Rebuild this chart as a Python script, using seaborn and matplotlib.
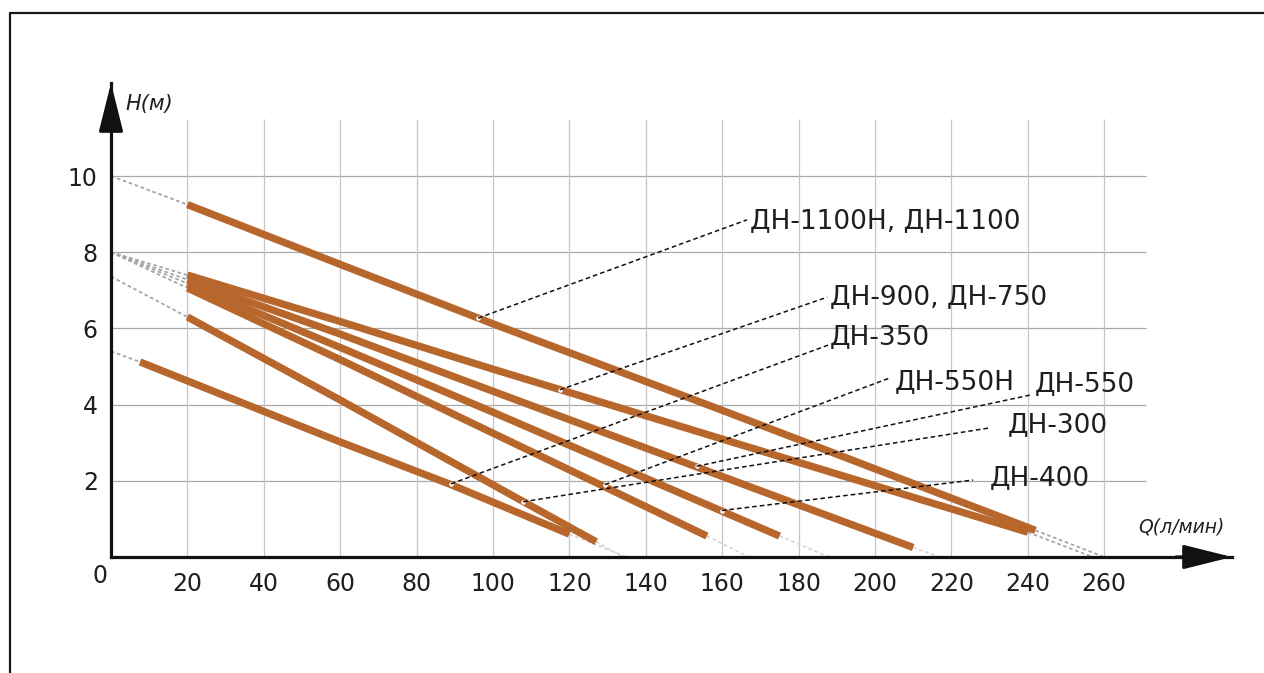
import matplotlib
matplotlib.use("Agg")
import matplotlib.pyplot as plt
import numpy as np
import pandas as pd
import seaborn as sns
from matplotlib.lines import Line2D

# ---------------- data ----------------
series_names = ["ДН-1100Н, ДН-1100", "ДН-900, ДН-750", "ДН-550", "ДН-400",
                "ДН-550Н", "ДН-300", "ДН-350"]
q_1100 = [20, 60, 100, 160, 242]
h_1100 = [9.25, 7.68, 6.12, 3.85, 0.70]
q_900 = [20, 60, 100, 240]
h_900 = [7.40, 6.18, 4.93, 0.65]
q_550 = [20, 60, 100, 210]
h_550 = [7.28, 5.85, 4.35, 0.25]
q_400 = [20, 60, 100, 175]
h_400 = [7.18, 5.50, 3.80, 0.55]
q_550n = [20, 60, 100, 156]
h_550n = [7.06, 5.18, 3.25, 0.55]
q_300 = [20, 60, 108, 127]
h_300 = [6.30, 4.12, 1.45, 0.40]
q_350 = [7.6, 60, 89, 120]
h_350 = [5.12, 3.02, 1.90, 0.60]
series_q = [q_1100, q_900, q_550, q_400, q_550n, q_300, q_350]
series_h = [h_1100, h_900, h_550, h_400, h_550n, h_300, h_350]

# grey dashed extrapolations: (H at Q=0) before the curve, (Q at H=0) after it
head_h0 = [10.0, 8.0, 8.0, 8.0, 8.0, 7.36, 5.40]
tail_q0 = [260, 257, 217, 188, 167, 134, 135]

# label text positions (left edge, centre) and leader lines
label_q = [167.3, 188.2, 241.9, 230.1, 205.2, 234.8, 188.2]
label_h = [8.82, 6.82, 4.54, 2.07, 4.59, 3.46, 5.77]
leader_start_q = [96.1, 117.5, 153.3, 159.9, 129.3, 107.9, 89.0]
leader_start_h = [6.27, 4.39, 2.38, 1.22, 1.90, 1.45, 1.92]
leader_end_q = [166.5, 187.5, 240.6, 225.7, 203.9, 230.1, 187.7]
leader_end_h = [8.85, 6.82, 4.25, 2.02, 4.70, 3.39, 5.56]

x_ticks = list(range(20, 261, 20))
y_ticks = [2, 4, 6, 8, 10]

# ---------------- figure ----------------
W, H = 1264, 673
sns.set_style("white")
plt.rcParams["font.family"] = ["DejaVu Sans"]
fig = plt.figure(figsize=(W / 100, H / 100), dpi=100)
fig.patch.set_facecolor("white")

px_per_q = 3.82
px_per_h = 38.1
x0_px, y0_px = 111, 557
right_px, top_px = 1232, 83
ax = fig.add_axes([x0_px / W, (H - y0_px) / H,
                   (right_px - x0_px) / W, (y0_px - top_px) / H])
ax.set_xlim(0, (right_px - x0_px) / px_per_q)
ax.set_ylim(0, (y0_px - top_px) / px_per_h)
ax.set_facecolor("none")

# grid
ax.hlines(y_ticks, 0, 271, colors="#a9a9a9", lw=0.9, zorder=1)
ax.vlines(x_ticks, 0, 11.5, colors="#c6c6c6", lw=0.9, zorder=1)

# grey dashed extrapolations
for qs, hs, h0, q0 in zip(series_q, series_h, head_h0, tail_q0):
    ax.plot([0, qs[0]], [h0, hs[0]], color="#a6a6a6", lw=1.3,
            ls=(0, (2, 1.5)), zorder=2, clip_on=False)
    tail_col = "#a6a6a6" if q0 >= 257 else "#d6d6d6"
    ax.plot([qs[-1], q0], [hs[-1], 0], color=tail_col, lw=1.3,
            ls=(0, (2, 1.5)), zorder=2)

# pump curves through seaborn
rows = []
for name, qs, hs in zip(series_names, series_q, series_h):
    for q, h in zip(qs, hs):
        rows.append({"series": name, "Q": q, "H": h})
df = pd.DataFrame(rows)
sns.lineplot(data=df, x="Q", y="H", units="series", estimator=None,
             sort=False, color="#b8672c", lw=5.3, ax=ax, zorder=3,
             legend=False)
for ln in ax.get_lines()[-len(series_names):]:
    ln.set_solid_capstyle("butt")

# leaders and labels
for i, name in enumerate(series_names):
    ax.plot([leader_start_q[i]], [leader_start_h[i]], "o", ms=3.2,
            color="white", mec="none", zorder=4)
    ax.plot([leader_start_q[i], leader_end_q[i]],
            [leader_start_h[i], leader_end_h[i]],
            color="#111111", lw=1.1, ls=(0, (3, 2)), zorder=5, clip_on=False)
    ax.text(label_q[i], label_h[i], name, fontsize=19, color="#1f1f1f",
            ha="left", va="center", zorder=6)

# axes: spines with arrows
for s in ["top", "right"]:
    ax.spines[s].set_visible(False)
for s in ["left", "bottom"]:
    ax.spines[s].set_linewidth(2.3)
    ax.spines[s].set_color("#111111")
    ax.spines[s].set_zorder(7)
ax.set_xticks(x_ticks)
ax.set_yticks(y_ticks)
ax.set_xticklabels([str(t) for t in x_ticks])
ax.set_yticklabels([str(t) for t in y_ticks])
ax.tick_params(axis="both", direction="inout", length=11, width=2.0,
               colors="#111111", labelsize=17, labelcolor="#1f1f1f")
ax.tick_params(axis="x", pad=5)
ax.tick_params(axis="y", pad=4)
ax.set_xlabel("")
ax.set_ylabel("")
ax.grid(False)

ax.annotate("", xy=(1, 0), xytext=(0.95, 0), xycoords="axes fraction",
            arrowprops=dict(arrowstyle="-|>,head_length=3.0,head_width=0.75",
                            mutation_scale=10, color="#111111", lw=2.3,
                            shrinkA=0, shrinkB=0), zorder=8)
ax.annotate("", xy=(0, 1), xytext=(0, 0.9), xycoords="axes fraction",
            arrowprops=dict(arrowstyle="-|>,head_length=3.0,head_width=0.75",
                            mutation_scale=10, color="#111111", lw=2.3,
                            shrinkA=0, shrinkB=0), zorder=8)

ax.text(-2.9, -0.5, "0", fontsize=17, color="#1f1f1f", ha="center",
        va="center", clip_on=False)
ax.text(3.7, 11.9, "H(м)", fontsize=15, style="italic", color="#1f1f1f",
        ha="left", va="center", clip_on=False)
ax.text(269, 0.8, "Q(л/мин)", fontsize=13.5, style="italic",
        color="#1f1f1f", ha="left", va="center", clip_on=False)

# picture frame (top and left edges)
fig.add_artist(Line2D([10 / W, 1.0], [1 - 13 / H, 1 - 13 / H],
                      color="#1a1a1a", lw=1.6))
fig.add_artist(Line2D([10 / W, 10 / W], [0.0, 1 - 13 / H],
                      color="#1a1a1a", lw=1.6))

fig.savefig("out.png", dpi=100, facecolor="white")
